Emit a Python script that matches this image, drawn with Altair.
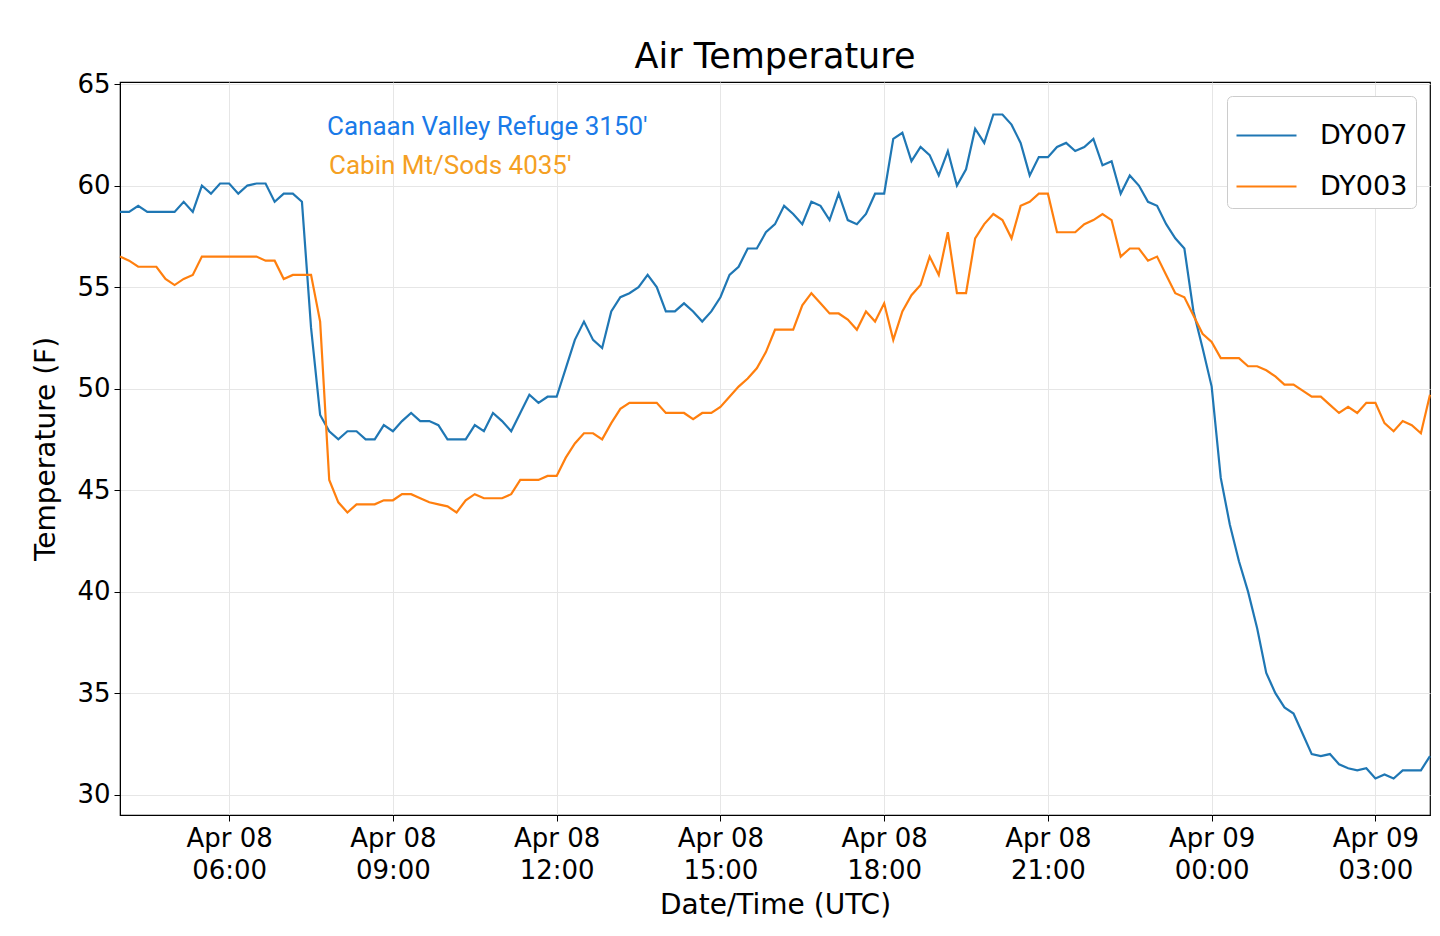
import pandas as pd
import altair as alt

# 10-minute readings, Apr 08 04:00 UTC to Apr 09 04:00 UTC
start = "2023-04-08T04:00:00Z"

dy007 = [
    58.7, 58.7, 59.0, 58.7, 58.7, 58.7,
    58.7, 59.2, 58.7, 60.0, 59.6, 60.1,
    60.1, 59.6, 60.0, 60.1, 60.1, 59.2,
    59.6, 59.6, 59.2, 53.0, 48.7, 47.9,
    47.5, 47.9, 47.9, 47.5, 47.5, 48.2,
    47.9, 48.4, 48.8, 48.4, 48.4, 48.2,
    47.5, 47.5, 47.5, 48.2, 47.9, 48.8,
    48.4, 47.9, 48.8, 49.7, 49.3, 49.6,
    49.6, 51.0, 52.4, 53.3, 52.4, 52.0,
    53.8, 54.5, 54.7, 55.0, 55.6, 55.0,
    53.8, 53.8, 54.2, 53.8, 53.3, 53.8,
    54.5, 55.6, 56.0, 56.9, 56.9, 57.7,
    58.1, 59.0, 58.6, 58.1, 59.2, 59.0,
    58.3, 59.6, 58.3, 58.1, 58.6, 59.6,
    59.6, 62.3, 62.6, 61.2, 61.9, 61.5,
    60.5, 61.7, 60.0, 60.8, 62.8, 62.1,
    63.5, 63.5, 63.0, 62.1, 60.5, 61.4,
    61.4, 61.9, 62.1, 61.7, 61.9, 62.3,
    61.0, 61.2, 59.6, 60.5, 60.0, 59.2,
    59.0, 58.1, 57.4, 56.9, 53.8, 52.0,
    50.1, 45.6, 43.3, 41.5, 40.0, 38.2,
    36.0, 35.0, 34.3, 34.0, 33.0, 32.0,
    31.9, 32.0, 31.5, 31.3, 31.2, 31.3,
    30.8, 31.0, 30.8, 31.2, 31.2, 31.2,
    31.9,
]

dy003 = [
    56.5, 56.3, 56.0, 56.0, 56.0, 55.4,
    55.1, 55.4, 55.6, 56.5, 56.5, 56.5,
    56.5, 56.5, 56.5, 56.5, 56.3, 56.3,
    55.4, 55.6, 55.6, 55.6, 53.3, 45.5,
    44.4, 43.9, 44.3, 44.3, 44.3, 44.5,
    44.5, 44.8, 44.8, 44.6, 44.4, 44.3,
    44.2, 43.9, 44.5, 44.8, 44.6, 44.6,
    44.6, 44.8, 45.5, 45.5, 45.5, 45.7,
    45.7, 46.6, 47.3, 47.8, 47.8, 47.5,
    48.3, 49.0, 49.3, 49.3, 49.3, 49.3,
    48.8, 48.8, 48.8, 48.5, 48.8, 48.8,
    49.1, 49.6, 50.1, 50.5, 51.0, 51.8,
    52.9, 52.9, 52.9, 54.1, 54.7, 54.2,
    53.7, 53.7, 53.4, 52.9, 53.8, 53.3,
    54.2, 52.4, 53.8, 54.6, 55.1, 56.5,
    55.6, 57.7, 54.7, 54.7, 57.4, 58.1,
    58.6, 58.3, 57.4, 59.0, 59.2, 59.6,
    59.6, 57.7, 57.7, 57.7, 58.1, 58.3,
    58.6, 58.3, 56.5, 56.9, 56.9, 56.3,
    56.5, 55.6, 54.7, 54.5, 53.6, 52.7,
    52.3, 51.5, 51.5, 51.5, 51.1, 51.1,
    50.9, 50.6, 50.2, 50.2, 49.9, 49.6,
    49.6, 49.2, 48.8, 49.1, 48.8, 49.3,
    49.3, 48.3, 47.9, 48.4, 48.2, 47.8,
    49.7,
]

times = pd.date_range(start, periods=len(dy007), freq="10min")
iso = [t.strftime("%Y-%m-%dT%H:%M:%SZ") for t in times]

df = pd.concat([
    pd.DataFrame({"time": iso, "temp": dy007, "station": "DY007"}),
    pd.DataFrame({"time": iso, "temp": dy003, "station": "DY003"}),
])

font = "DejaVu Sans"

lines = alt.Chart(df).mark_line(strokeWidth=2.2).encode(
    x=alt.X("time:T", title="Date/Time (UTC)",
            scale=alt.Scale(type="utc", domain=[iso[0], iso[-1]], nice=False),
            axis=alt.Axis(values=[
                "2023-04-08T06:00:00Z", "2023-04-08T09:00:00Z", "2023-04-08T12:00:00Z",
                "2023-04-08T15:00:00Z", "2023-04-08T18:00:00Z", "2023-04-08T21:00:00Z",
                "2023-04-09T00:00:00Z", "2023-04-09T03:00:00Z"],
                labelExpr="[utcFormat(datum.value, '%b %d'), utcFormat(datum.value, '%H:%M')]",
                labelLineHeight=32, titlePadding=8)),
    y=alt.Y("temp:Q", title="Temperature (F)",
            scale=alt.Scale(domain=[29, 65.1], nice=False, zero=False),
            axis=alt.Axis(values=[30, 35, 40, 45, 50, 55, 60, 65], titlePadding=16)),
    color=alt.Color("station:N", sort=["DY007", "DY003"],
                    scale=alt.Scale(domain=["DY007", "DY003"], range=["#1f77b4", "#ff7f0e"]),
                    legend=alt.Legend(title=None, orient="top-right", symbolType="stroke",
                                      symbolSize=3600, symbolStrokeWidth=2.2, labelFontSize=27,
                                      labelFont=font, labelOffset=22, rowPadding=6, padding=8,
                                      strokeColor="#cccccc", cornerRadius=5, fillColor="white",
                                      offset=14)),
)

notes = pd.DataFrame({
    "label": ["Canaan Valley Refuge 3150'", "Cabin Mt/Sods 4035'"],
    "color": ["#1a7ae8", "#f5a023"],
    "px": [207, 209],
    "py": [45, 84],
})
text = alt.Chart(notes).mark_text(align="left", baseline="middle", font="Roboto", fontSize=26).encode(
    x=alt.X("px:Q", scale=None),
    y=alt.Y("py:Q", scale=None),
    text="label:N",
    color=alt.Color("color:N", scale=None),
)

chart = alt.layer(lines, text).properties(
    width=1310, height=733,
    autosize=alt.AutoSizeParams(type="none"),
    padding={"left": 112, "top": 74, "right": 2, "bottom": 120},
    title=alt.Title("Air Temperature", fontSize=35, font=font, fontWeight="normal", offset=-4),
).configure_axis(
    labelFont=font, titleFont=font, labelFontSize=26, titleFontSize=28,
    titleFontWeight="normal", labelColor="black", titleColor="black",
    gridColor="#e6e6e6", domainColor="black", tickColor="black", tickSize=6,
    labelPadding=4,
).configure_view(stroke="black", strokeWidth=1.2)

chart.save("out.html", embed_options={"renderer": "svg", "actions": False})
